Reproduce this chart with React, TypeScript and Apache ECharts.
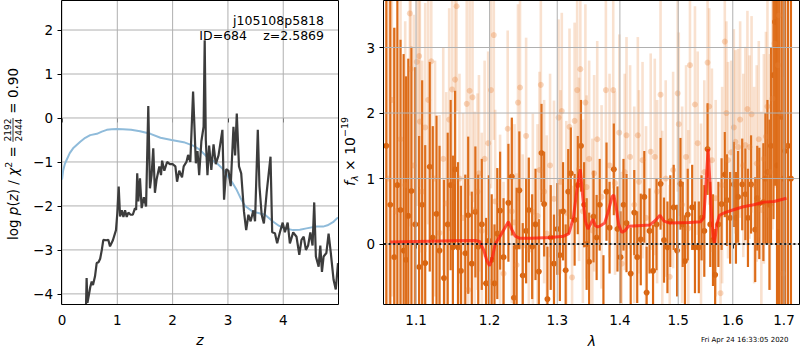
import React, { useEffect, useRef } from 'react';
import * as echarts from 'echarts';

const FONT = '"DejaVu Sans", Verdana, sans-serif';

// ---- tick labels ----
const zTicks = [0, 1, 2, 3, 4];
const logpTicks = [-4, -3, -2, -1, 0, 1, 2];
const lamTicks = [1.1, 1.2, 1.3, 1.4, 1.5, 1.6, 1.7];
const fluxTicks = [0, 1, 2, 3];

// ---- left panel: log p(z) (dark) and prior (blue) ----
const logpCurve: number[][] = [
  [0.43, -4.5], [0.445, -3.64], [0.46, -4.2], [0.49, -4.0], [0.51, -3.85], [0.537, -3.72], [0.56, -3.8],
  [0.597, -3.6], [0.627, -3.3], [0.66, -3.28], [0.69, -3.2], [0.72, -3.0], [0.747, -2.77], [0.8, -2.78],
  [0.837, -2.77], [0.868, -2.92], [0.92, -2.78], [0.976, -2.55], [1.0, -2.17], [1.025, -1.56], [1.05, -2.24],
  [1.08, -2.1], [1.11, -2.25], [1.14, -2.1], [1.17, -2.25], [1.2, -2.15], [1.24, -2.2], [1.28, -2.2],
  [1.32, -2.05], [1.34, -2.09], [1.36, -1.26], [1.38, -1.9], [1.41, -1.37], [1.44, -2.05], [1.48, -1.8],
  [1.52, -2.01], [1.56, 0.27], [1.59, -1.6], [1.62, -1.3], [1.65, -0.69], [1.68, -1.7], [1.71, -1.4],
  [1.76, -1.1], [1.79, -1.3], [1.81, -0.97], [1.85, -1.2], [1.9, -1.0], [1.95, -1.05], [2.0, -1.05],
  [2.05, -1.1], [2.08, -1.45], [2.12, -1.2], [2.17, -1.35], [2.2, -1.1], [2.25, -1.0], [2.28, -0.84],
  [2.32, -1.0], [2.37, 0.6], [2.42, -1.03], [2.45, -0.75], [2.48, -1.3], [2.52, -0.53], [2.56, -0.2],
  [2.58, 1.77], [2.6, -0.5], [2.63, -1.3], [2.66, -0.63], [2.7, -1.18], [2.74, -0.6], [2.78, -1.05],
  [2.83, -0.85], [2.9, -0.27], [2.93, -1.86], [2.97, -1.16], [3.01, -1.2], [3.05, -1.55], [3.1, -0.2],
  [3.13, -0.85], [3.16, 0.1], [3.2, -1.1], [3.24, -1.26], [3.29, -2.13], [3.33, -2.55], [3.37, -2.2],
  [3.41, -2.35], [3.46, -2.1], [3.49, -2.35], [3.54, -0.27], [3.57, -1.55], [3.61, -2.2], [3.65, -2.4],
  [3.7, -1.7], [3.77, -0.88], [3.8, -2.6], [3.85, -2.62], [3.89, -2.85], [3.94, -2.6], [3.99, -2.38],
  [4.03, -2.6], [4.08, -2.38], [4.12, -2.85], [4.18, -2.6], [4.24, -2.7], [4.29, -3.11], [4.33, -2.77],
  [4.37, -2.7], [4.41, -3.0], [4.45, -2.9], [4.49, -2.6], [4.53, -2.9], [4.56, -1.92], [4.59, -3.15],
  [4.64, -3.38], [4.67, -2.9], [4.7, -3.5], [4.73, -3.15], [4.78, -3.07], [4.82, -2.63], [4.86, -3.07],
  [4.91, -3.68], [4.95, -3.9], [4.99, -3.3],
];

const priorCurve: number[][] = [
  [0, -1.4], [0.02, -1.2], [0.05, -1.05], [0.085, -0.95], [0.14, -0.8], [0.2, -0.69], [0.26, -0.62],
  [0.33, -0.54], [0.42, -0.45], [0.51, -0.39], [0.63, -0.36], [0.72, -0.31], [0.81, -0.27], [0.9, -0.255],
  [0.99, -0.25], [1.1, -0.255], [1.25, -0.27], [1.41, -0.3], [1.6, -0.36], [1.78, -0.45], [1.98, -0.5],
  [2.2, -0.55], [2.37, -0.63], [2.49, -0.72], [2.61, -0.87], [2.7, -0.95], [2.8, -1.03], [2.9, -1.15],
  [2.98, -1.3], [3.07, -1.45], [3.16, -1.64], [3.24, -1.85], [3.31, -2.0], [3.45, -2.13], [3.55, -2.16],
  [3.67, -2.2], [3.82, -2.36], [3.92, -2.45], [4.0, -2.5], [4.18, -2.55], [4.3, -2.54], [4.42, -2.51],
  [4.6, -2.47], [4.72, -2.47], [4.8, -2.44], [4.9, -2.37], [4.99, -2.26],
];

// ---- right panel: spectrum [lambda (um), flux, error] ----
const darkSpec: number[][] = [
  [1.062, 1.5, 4.0], [1.067, 0.6, 3.8], [1.072, -0.2, 3.5], [1.076, 0.9, 3.2], [1.08, 0.52, 2.6],
  [1.084, -0.1, 3.0], [1.087, -0.24, 2.8], [1.09, 0.43, 2.4], [1.094, 0.81, 2.2], [1.099, 0.3, 2.4],
  [1.104, -0.35, 2.0], [1.108, 0.6, 1.9], [1.112, -0.29, 1.8], [1.118, 1.18, 1.6], [1.122, 0.1, 1.7],
  [1.127, 0.46, 1.5], [1.131, -0.1, 1.6], [1.137, -0.52, 1.5], [1.142, 0.3, 1.4], [1.146, 0.9, 1.3],
  [1.149, -0.05, 1.4], [1.152, 1.14, 1.2], [1.156, -0.05, 1.3], [1.16, -0.41, 1.3], [1.166, -0.14, 1.2],
  [1.17, 0.44, 1.2], [1.175, -0.3, 1.1], [1.18, 0.49, 1.0], [1.184, -0.04, 1.1], [1.189, 0.3, 1.0],
  [1.195, -0.6, 1.0], [1.199, 0.05, 1.0], [1.203, -0.24, 1.0], [1.207, -0.6, 0.9], [1.211, 0.16, 1.0],
  [1.215, 0.51, 0.9], [1.22, -0.2, 0.9], [1.227, 0.63, 0.9], [1.232, 1.03, 0.9], [1.235, -0.82, 0.8],
  [1.239, -0.04, 0.9], [1.243, 0.82, 0.9], [1.248, -0.48, 0.8], [1.253, 0.2, 0.8], [1.257, 0.52, 0.8],
  [1.262, -0.04, 0.8], [1.267, 0.3, 0.85], [1.272, -0.42, 0.8], [1.276, 1.39, 0.75], [1.28, 0.61, 0.8],
  [1.285, -0.84, 0.8], [1.29, 0.1, 0.8], [1.295, -0.3, 0.75], [1.3, 0.23, 0.7], [1.304, -0.17, 0.7],
  [1.309, 0.5, 0.75], [1.313, -0.4, 0.7], [1.317, 0.8, 0.65], [1.321, 1.08, 0.7], [1.327, 0.37, 0.7],
  [1.332, 0.9, 0.75], [1.337, 1.5, 0.7], [1.342, 0.6, 0.65], [1.346, 0.0, 0.7], [1.35, -0.27, 0.75],
  [1.357, 0.42, 0.7], [1.362, 0.1, 0.65], [1.367, 0.6, 0.7], [1.373, -0.87, 0.7], [1.378, 0.8, 0.75],
  [1.383, 0.25, 0.7], [1.39, 1.14, 0.7], [1.396, 0.23, 0.65], [1.401, -0.2, 0.7], [1.406, 0.6, 0.7],
  [1.411, 0.32, 0.75], [1.418, -0.45, 0.7], [1.424, 0.48, 0.65], [1.429, -0.2, 0.7], [1.435, 0.07, 0.7],
  [1.441, 0.72, 0.7], [1.445, -0.74, 0.7], [1.45, 0.2, 0.65], [1.456, -0.41, 0.7], [1.462, 0.3, 0.7],
  [1.469, 0.92, 0.7], [1.475, 0.06, 0.65], [1.481, -0.05, 0.7], [1.486, 0.35, 0.7], [1.492, 0.56, 0.65],
  [1.498, -0.1, 0.7], [1.504, 0.92, 0.7], [1.508, 0.3, 0.65], [1.512, -0.26, 0.7], [1.517, 0.45, 0.7],
  [1.525, 0.56, 0.65], [1.53, -0.05, 0.7], [1.537, -0.05, 0.7], [1.542, 0.4, 0.65], [1.547, 0.2, 0.7],
  [1.553, 1.45, 0.7], [1.558, 0.3, 0.65], [1.563, 0.06, 0.7], [1.567, -0.47, 0.7], [1.573, 0.3, 0.65],
  [1.579, 0.61, 0.7], [1.585, 1.06, 0.65], [1.589, 0.67, 0.7], [1.595, 0.4, 0.7], [1.602, 0.91, 0.65],
  [1.606, 0.4, 0.7], [1.61, 0.72, 0.7], [1.618, 0.91, 0.7], [1.624, 0.76, 0.7], [1.629, 0.4, 0.75],
  [1.635, 0.91, 0.75], [1.643, 0.22, 0.8], [1.647, 0.7, 0.8], [1.651, 0.62, 0.85], [1.659, 0.64, 0.9],
  [1.663, 1.0, 1.0], [1.667, 1.1, 1.1], [1.671, 0.6, 1.3], [1.674, 1.5, 1.5], [1.679, 2.58, 2.2],
  [1.682, 3.39, 2.5], [1.686, 1.2, 3.0], [1.69, 2.0, 3.5], [1.695, 1.94, 4.0], [1.699, 1.0, 4.5],
  [1.702, 1.42, 5.0], [1.708, 1.5, 6.0], [1.714, 1.0, 6.0],
];

const lightSpec: number[][] = [
  [1.064, 1.0, 3.0], [1.069, 2.2, 3.0], [1.074, 0.5, 2.8], [1.08, 1.6, 2.6], [1.086, 0.9, 2.5],
  [1.092, 3.52, 2.5], [1.093, 2.67, 2.4], [1.097, 1.2, 2.3], [1.101, 2.78, 2.2], [1.104, 2.87, 2.0],
  [1.105, 1.87, 2.0], [1.108, 0.8, 2.0], [1.112, 1.78, 1.9], [1.116, 2.2, 1.9], [1.12, 2.79, 1.8],
  [1.125, 1.0, 1.8], [1.131, 0.17, 1.8], [1.136, 1.3, 1.7], [1.14, 0.62, 1.7], [1.144, 1.9, 1.7],
  [1.148, 2.36, 1.7], [1.152, 2.51, 1.6], [1.154, 3.63, 1.6], [1.158, 1.0, 1.6], [1.163, 0.4, 1.6],
  [1.168, 2.14, 1.6], [1.17, -0.7, 1.6], [1.172, 2.34, 1.6], [1.176, 2.24, 1.6], [1.179, 0.52, 1.5],
  [1.183, 0.8, 1.5], [1.185, 1.08, 1.5], [1.189, 0.2, 1.5], [1.193, 1.3, 1.5], [1.198, 1.54, 1.4],
  [1.2, -0.58, 1.5], [1.202, 2.35, 1.5], [1.206, 3.19, 1.6], [1.208, 0.65, 1.4], [1.215, 0.17, 1.5],
  [1.22, -0.45, 1.4], [1.226, 1.76, 1.5], [1.232, 0.5, 1.4], [1.236, 0.33, 1.5], [1.239, -0.32, 1.4],
  [1.241, 2.16, 1.5], [1.244, 2.39, 1.6], [1.248, -0.03, 1.4], [1.253, 1.65, 1.5], [1.257, -0.09, 1.4],
  [1.263, 0.49, 1.5], [1.27, 0.43, 1.4], [1.273, 1.13, 1.5], [1.275, 2.43, 1.6], [1.28, 0.8, 1.4],
  [1.284, 0.16, 1.5], [1.289, 1.2, 1.4], [1.295, 0.69, 1.5], [1.302, 1.93, 1.5], [1.305, 0.95, 1.4],
  [1.307, 2.03, 1.5], [1.314, 0.48, 1.4], [1.319, 1.79, 1.5], [1.323, -0.51, 1.4], [1.327, 1.88, 1.5],
  [1.331, 2.35, 1.6], [1.334, 1.14, 1.4], [1.336, 2.67, 1.5], [1.34, 0.5, 1.4], [1.344, 2.16, 1.5],
  [1.346, 0.87, 1.4], [1.35, 1.3, 1.5], [1.355, 0.21, 1.4], [1.358, 1.08, 1.5], [1.363, 1.6, 1.5],
  [1.37, 0.72, 1.4], [1.377, 2.35, 1.5], [1.383, 1.2, 1.4], [1.389, 2.35, 1.5], [1.392, 0.93, 1.4],
  [1.399, 1.7, 1.5], [1.403, -0.3, 1.4], [1.408, 1.1, 1.5], [1.411, 1.66, 1.5], [1.417, 1.33, 1.4],
  [1.424, 0.6, 1.5], [1.43, 1.66, 1.5], [1.432, 0.95, 1.4], [1.438, 1.28, 1.5], [1.444, 0.4, 1.4],
  [1.452, 1.41, 1.5], [1.459, 1.33, 1.5], [1.463, 0.8, 1.4], [1.469, 2.28, 1.5], [1.472, 0.33, 1.4],
  [1.478, 1.0, 1.5], [1.485, -0.5, 1.4], [1.491, 1.13, 1.5], [1.499, 2.3, 1.5], [1.501, 1.83, 1.4],
  [1.507, 0.6, 1.5], [1.514, 1.33, 1.4], [1.518, 0.24, 1.5], [1.521, 2.73, 1.5], [1.53, 2.13, 1.5],
  [1.535, 1.54, 1.4], [1.541, 0.34, 1.5], [1.547, 1.1, 1.4], [1.553, 2.77, 1.5], [1.556, 2.1, 1.5],
  [1.561, 1.28, 1.4], [1.568, 0.7, 1.5], [1.577, -0.75, 1.4], [1.58, 0.9, 1.5], [1.585, 3.09, 1.5],
  [1.588, 2.0, 1.4], [1.591, 1.28, 1.5], [1.597, 1.4, 1.4], [1.602, 1.78, 1.5], [1.605, 1.56, 1.4],
  [1.61, 1.48, 1.5], [1.614, 1.9, 1.5], [1.62, 1.2, 1.4], [1.624, 1.51, 1.5], [1.628, 2.06, 1.5],
  [1.632, 1.48, 1.4], [1.636, 1.98, 1.5], [1.641, 0.9, 1.5], [1.646, 1.23, 1.5], [1.65, 1.6, 1.5],
  [1.655, 0.52, 1.5], [1.66, 1.3, 1.6], [1.664, 1.64, 1.6], [1.667, 2.1, 1.7], [1.672, 1.1, 1.8],
  [1.677, 2.22, 2.0], [1.681, 3.06, 2.2], [1.688, 2.73, 2.5], [1.69, 3.49, 2.8], [1.694, 2.0, 3.0],
  [1.698, -0.45, 3.0], [1.703, 1.5, 3.0],
];

const modelCurve: number[][] = [
  [1.067, 0.03], [1.1, 0.04], [1.15, 0.05], [1.18, 0.055], [1.186, 0.04], [1.192, -0.1], [1.196, -0.25],
  [1.2, -0.33], [1.204, -0.2], [1.208, 0.0], [1.215, 0.12], [1.222, 0.25], [1.227, 0.34], [1.232, 0.22],
  [1.237, 0.12], [1.243, 0.09], [1.26, 0.09], [1.29, 0.1], [1.31, 0.12], [1.318, 0.16], [1.325, 0.4],
  [1.331, 0.85], [1.336, 1.14], [1.34, 0.7], [1.344, 0.35], [1.348, 0.23], [1.352, 0.3], [1.356, 0.38],
  [1.36, 0.28], [1.364, 0.26], [1.368, 0.28], [1.375, 0.32], [1.381, 0.5], [1.387, 0.72], [1.39, 0.75],
  [1.394, 0.55], [1.398, 0.3], [1.403, 0.18], [1.408, 0.2], [1.414, 0.27], [1.43, 0.28], [1.45, 0.29],
  [1.46, 0.36], [1.468, 0.44], [1.475, 0.35], [1.485, 0.32], [1.52, 0.33], [1.54, 0.34], [1.546, 0.4],
  [1.55, 0.9], [1.554, 1.45], [1.557, 1.0], [1.56, 0.5], [1.563, 0.1], [1.566, 0.02], [1.57, 0.3],
  [1.575, 0.44], [1.585, 0.48], [1.6, 0.52], [1.62, 0.57], [1.64, 0.6], [1.66, 0.64], [1.68, 0.65],
  [1.705, 0.7],
];

// ---- axis ranges ----
const zRange = [0, 4.99];
const logpRange = [-4.23, 2.66];
const lamRange = [1.0591, 1.7304];
const fluxRange = [-0.915, 3.71];

// ---- helpers ----
const fmt = (v: number) => {
  const r = Math.round(v * 10) / 10;
  return (r < 0 ? '\u2212' : '') + String(Math.abs(r));
};

function measure(text: string, size: number, italic?: boolean) {
  const c = document.createElement('canvas').getContext('2d');
  if (!c) return text.length * size * 0.6;
  c.font = `${italic ? 'italic ' : ''}${size}px ${FONT}`;
  return c.measureText(text).width;
}

type Part = { t?: string; size: number; italic?: boolean; dy?: number; frac?: [string, string] };

function rotatedLabel(x: number, y: number, parts: Part[]) {
  const children: any[] = [];
  let cx = 0;
  for (const p of parts) {
    if (p.frac) {
      const w = Math.max(measure(p.frac[0], p.size), measure(p.frac[1], p.size)) + 1;
      children.push({ type: 'text', x: cx + w / 2, y: -5.5, style: { text: p.frac[0], fill: '#000', fontSize: p.size, fontFamily: FONT, textAlign: 'center', textVerticalAlign: 'middle', align: 'center', verticalAlign: 'middle' } });
      children.push({ type: 'text', x: cx + w / 2, y: 5.5, style: { text: p.frac[1], fill: '#000', fontSize: p.size, fontFamily: FONT, textAlign: 'center', textVerticalAlign: 'middle', align: 'center', verticalAlign: 'middle' } });
      children.push({ type: 'line', shape: { x1: cx, y1: 0, x2: cx + w, y2: 0 }, style: { stroke: '#000', lineWidth: 0.8 } });
      cx += w;
    } else {
      const t = p.t || '';
      children.push({ type: 'text', x: cx, y: p.dy || 0, style: { text: t, fill: '#000', fontSize: p.size, fontFamily: FONT, fontStyle: p.italic ? 'italic' : 'normal', textAlign: 'left', textVerticalAlign: 'middle', align: 'left', verticalAlign: 'middle' } });
      cx += measure(t, p.size, p.italic);
    }
  }
  return { type: 'group', x, y, rotation: Math.PI / 2, z: 100, children };
}

function errRender(barColor: string, dotColor: string, barW: number, r: number) {
  return (params: any, api: any) => {
    const x = api.value(0), y = api.value(1), e = api.value(2);
    const top = api.coord([x, y + e]);
    const bot = api.coord([x, y - e]);
    const c = api.coord([x, y]);
    const cs = params.coordSys;
    const y0 = Math.max(cs.y, top[1]);
    const y1 = Math.min(cs.y + cs.height, bot[1]);
    const children: any[] = [];
    if (y1 > y0) children.push({ type: 'rect', shape: { x: c[0] - barW / 2, y: y0, width: barW, height: y1 - y0 }, style: { fill: barColor } });
    if (c[1] >= cs.y + r && c[1] <= cs.y + cs.height - r) children.push({ type: 'circle', shape: { cx: c[0], cy: c[1], r }, style: { fill: dotColor } });
    return { type: 'group', children };
  };
}

// grid lines drawn as a broken line series through the axes' own scales
function gridSeries(xi: number, xs: number[], ys: number[], xr: number[], yr: number[], z: number) {
  const data: any[] = [];
  xs.forEach((v) => { data.push([v, yr[0]], [v, yr[1]], [v, '-']); });
  ys.forEach((v) => { data.push([xr[0], v], [xr[1], v], ['-', v]); });
  return {
    type: 'line', xAxisIndex: xi, yAxisIndex: xi, data, z, showSymbol: false, symbol: 'none',
    connectNulls: false, silent: true, clip: false,
    lineStyle: { color: '#b0b0b0', width: 1 }, emphasis: { disabled: true },
  };
}

const L = { left: 62, top: 1, width: 276, height: 303 };
const R = { left: 384, top: 1, width: 415, height: 303 };

export default function App() {
  const ref = useRef<HTMLDivElement>(null);
  useEffect(() => {
    if (!ref.current) return;
    const chart = echarts.init(ref.current, undefined, { renderer: 'svg' });
    const lnTicks = lamTicks.map((v) => Math.log(v));
    const lnRange = lamRange.map((v) => Math.log(v));
    const axisLabelBase = { color: '#000', fontSize: 13.5, fontFamily: FONT };
    const tick = { show: true, length: 4.5, lineStyle: { color: '#000', width: 1 } };

    const option: any = {
      animation: false,
      textStyle: { fontFamily: FONT },
      grid: [
        { ...L, containLabel: false },
        { ...R, containLabel: false },
      ],
      xAxis: [
        {
          gridIndex: 0, type: 'value', min: zRange[0], max: zRange[1],
          axisLine: { show: false }, splitLine: { show: false },
          axisTick: { ...tick, customValues: zTicks },
          axisLabel: { ...axisLabelBase, margin: 9, customValues: zTicks, formatter: fmt },
        },
        {
          gridIndex: 1, type: 'value', min: lnRange[0], max: lnRange[1],
          axisLine: { show: false }, splitLine: { show: false },
          axisTick: { ...tick, customValues: lnTicks },
          axisLabel: { ...axisLabelBase, margin: 9, customValues: lnTicks, formatter: (v: number) => Math.exp(v).toFixed(1) },
        },
      ],
      yAxis: [
        {
          gridIndex: 0, type: 'value', min: logpRange[0], max: logpRange[1],
          axisLine: { show: false }, splitLine: { show: false },
          axisTick: { ...tick, customValues: logpTicks },
          axisLabel: { ...axisLabelBase, margin: 9, customValues: logpTicks, formatter: fmt },
        },
        {
          gridIndex: 1, type: 'value', min: fluxRange[0], max: fluxRange[1],
          axisLine: { show: false }, splitLine: { show: false },
          axisTick: { ...tick, customValues: fluxTicks },
          axisLabel: { ...axisLabelBase, margin: 9, customValues: fluxTicks, formatter: fmt },
        },
      ],
      series: [
        gridSeries(0, zTicks, logpTicks, zRange, logpRange, 1),
        {
          type: 'line', xAxisIndex: 0, yAxisIndex: 0, data: priorCurve, showSymbol: false, symbol: 'none',
          lineStyle: { color: '#8fbbda', width: 2 }, z: 6, emphasis: { disabled: true },
        },
        {
          type: 'line', xAxisIndex: 0, yAxisIndex: 0, data: logpCurve, showSymbol: false, symbol: 'none',
          lineStyle: { color: '#3c3c3c', width: 2.2 }, z: 7, emphasis: { disabled: true },
        },
        {
          type: 'custom', xAxisIndex: 1, yAxisIndex: 1, z: 2, clip: true,
          data: darkSpec.map((d) => [Math.log(d[0]), d[1], d[2]]),
          encode: { x: 0, y: 1 },
          renderItem: errRender('#dc6a16', '#d8640f', 2.2, 3),
        },
        {
          type: 'custom', xAxisIndex: 1, yAxisIndex: 1, z: 3, clip: true,
          data: lightSpec.map((d) => [Math.log(d[0]), d[1], d[2]]),
          encode: { x: 0, y: 1 },
          renderItem: errRender('rgba(232,130,55,0.24)', 'rgba(232,130,55,0.32)', 2.6, 3),
        },
        gridSeries(1, lnTicks, fluxTicks, lnRange, fluxRange, 7),
        {
          type: 'line', xAxisIndex: 1, yAxisIndex: 1, z: 8, showSymbol: false, symbol: 'none',
          data: modelCurve.map((d) => [Math.log(d[0]), d[1]]),
          lineStyle: { color: 'rgba(255,25,10,0.72)', width: 3 }, emphasis: { disabled: true },
        },
        {
          type: 'line', xAxisIndex: 1, yAxisIndex: 1, data: [], z: 9,
          markLine: {
            silent: true, symbol: ['none', 'none'], label: { show: false }, z: 9,
            lineStyle: { color: '#1a1a1a', width: 2, type: [2, 2.6] },
            data: [{ yAxis: 0 }],
          },
        },
      ],
      graphic: [
        { type: 'rect', z: 100, shape: { x: L.left - 0.5, y: L.top - 0.5, width: L.width + 1, height: L.height + 1 }, style: { fill: 'none', stroke: '#000', lineWidth: 1 } },
        { type: 'rect', z: 100, shape: { x: R.left - 0.5, y: R.top - 0.5, width: R.width + 1, height: R.height + 1 }, style: { fill: 'none', stroke: '#000', lineWidth: 1 } },
        { type: 'text', z: 100, x: 324, y: 20, style: { text: 'j105108p5818', fill: '#000', fontSize: 12.5, fontFamily: FONT, textAlign: 'right', textVerticalAlign: 'middle', align: 'right', verticalAlign: 'middle' } },
        { type: 'text', z: 100, x: 247, y: 35, style: { text: 'ID=684', fill: '#000', fontSize: 12.5, fontFamily: FONT, textAlign: 'right', textVerticalAlign: 'middle', align: 'right', verticalAlign: 'middle' } },
        { type: 'text', z: 100, x: 324, y: 35, style: { text: 'z=2.5869', fill: '#000', fontSize: 12.5, fontFamily: FONT, textAlign: 'right', textVerticalAlign: 'middle', align: 'right', verticalAlign: 'middle' } },
        { type: 'text', z: 100, x: 200, y: 340, style: { text: 'z', fill: '#000', fontSize: 14, fontStyle: 'italic', fontFamily: FONT, textAlign: 'center', textVerticalAlign: 'middle', align: 'center', verticalAlign: 'middle' } },
        { type: 'text', z: 100, x: 592, y: 341, style: { text: 'λ', fill: '#000', fontSize: 14, fontStyle: 'italic', fontFamily: FONT, textAlign: 'center', textVerticalAlign: 'middle', align: 'center', verticalAlign: 'middle' } },
        { type: 'text', z: 100, x: 701, y: 340, style: { text: 'Fri Apr 24 16:33:05 2020', fill: '#000', fontSize: 7, fontFamily: FONT, textAlign: 'left', textVerticalAlign: 'middle', align: 'left', verticalAlign: 'middle' } },
        rotatedLabel(13, 240, [
          { t: 'log ', size: 13.5 },
          { t: 'p', size: 13.5, italic: true },
          { t: '(', size: 13.5 },
          { t: 'z', size: 13.5, italic: true },
          { t: ') / ', size: 13.5 },
          { t: 'χ', size: 13.5, italic: true },
          { t: '2', size: 9.5, dy: -5 },
          { t: ' = ', size: 13.5 },
          { size: 9, frac: ['2192', '2444'] },
          { t: ' = 0.90', size: 13.5 },
        ]),
        rotatedLabel(350, 186, [
          { t: 'f', size: 14, italic: true },
          { t: 'λ', size: 9.5, italic: true, dy: 4 },
          { t: ' × 10', size: 14 },
          { t: '\u221219', size: 9.5, dy: -6 },
        ]),
      ],
    };
    chart.setOption(option);
    return () => chart.dispose();
  }, []);
  return <div ref={ref} style={{ position: 'absolute', left: 0, top: 0, width: 800, height: 350 }} />;
}
